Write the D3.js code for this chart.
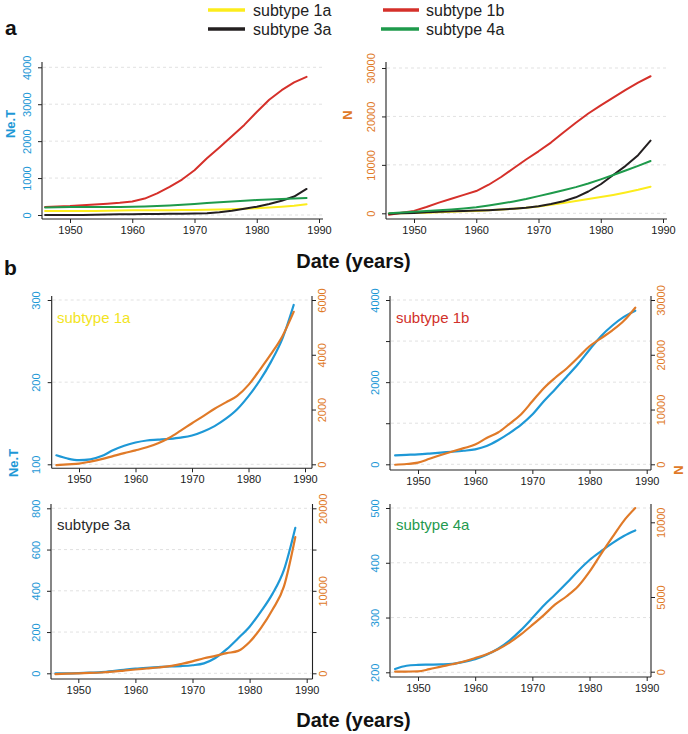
<!DOCTYPE html>
<html><head><meta charset="utf-8">
<script src="https://cdn.jsdelivr.net/npm/d3@7"></script>
<style>body{margin:0;background:#fff}svg{display:block}</style>
</head><body><svg id="c" width="688" height="734"></svg>
<script>
// ---------- DATA ----------
const years = [1946,1948,1950,1952,1954,1956,1958,1960,1962,1964,1966,1968,1970,1972,1974,1976,1978,1980,1982,1984,1986,1988];
const subtypes = ["subtype 1a","subtype 1b","subtype 3a","subtype 4a"];
const xTicks = [1950,1960,1970,1980,1990];

// Ne.T (effective population size) per subtype
const neT_1a = [111,107,105,106,110,117,122.5,126.5,129,130,131,132.5,135,140,146.5,155.5,167,183,202,225,253,294];
const neT_1b = [218,230,242,262,285,305,330,365,445,585,760,960,1210,1535,1830,2130,2440,2790,3120,3380,3590,3740];
const neT_3a = [0,0,1,3,6,11,17,23,27,30,33,35,39,48,74,117,170,226,300,385,500,705];
const neT_4a = [206,212,213.5,214,214.5,215.5,219,224,232,243,258,277,299,322,342,363,385,405,421,436,449,459];

// N (number of infections), panel b
const n_1a = [-30,0,25,100,190,300,410,510,620,770,970,1230,1500,1760,2030,2260,2500,2900,3450,4030,4680,5570];
const n_1b = [-80,50,300,1000,1700,2350,2950,3600,4800,5800,7400,9100,11500,13900,15800,17500,19500,21550,23000,24450,26200,28600];
const n_3a = [-100,-50,0,40,100,200,330,460,580,700,860,1130,1450,1820,2120,2440,2720,3800,5500,7700,10500,16500];
const n_4a = [0,10,20,170,340,500,680,920,1170,1500,1950,2500,3130,3790,4500,5050,5720,6700,7870,9000,10100,10950];

// N, panel a
const nTop_1a = [-50,0,50,120,200,300,400,500,620,770,950,1150,1400,1750,2150,2550,2950,3350,3800,4300,4850,5500];
const nTop_1b = [-300,100,500,1300,2200,3000,3800,4600,5900,7500,9300,11100,12800,14600,16700,18700,20600,22300,23900,25500,27000,28300];
const nTop_3a = [-100,0,80,200,300,400,480,560,650,780,950,1150,1450,1900,2500,3300,4500,6000,7900,9800,12000,15000];
const nTop_4a = [0,150,300,450,620,800,1000,1250,1600,2000,2450,2950,3550,4150,4750,5400,6150,7000,7900,8850,9800,10800];

// ---------- STYLE ----------
const FONT = '"Liberation Sans", Arial, Helvetica, sans-serif';
const BLUE = "#1e98d6", ORANGE = "#e07a28", AX = "#222";
const colors = {"subtype 1a":"#fcec1c","subtype 1b":"#d5302a","subtype 3a":"#231f20","subtype 4a":"#1e9a4b"};
const labelColors = {"subtype 1a":"#f2e41e","subtype 1b":"#d1312b","subtype 3a":"#2a2a2a","subtype 4a":"#1f9a4f"};
const neT = {"subtype 1a":neT_1a,"subtype 1b":neT_1b,"subtype 3a":neT_3a,"subtype 4a":neT_4a};
const nB = {"subtype 1a":n_1a,"subtype 1b":n_1b,"subtype 3a":n_3a,"subtype 4a":n_4a};
const nT = {"subtype 1a":nTop_1a,"subtype 1b":nTop_1b,"subtype 3a":nTop_3a,"subtype 4a":nTop_4a};

const svg = d3.select("#c");
const fmt = d3.format("d");

function axisBottom(g, x, y0, xl, xr) {
  const ax = g.append("g").attr("transform", `translate(0,${y0})`)
    .call(d3.axisBottom(x).tickValues(xTicks).tickSize(4).tickPadding(3).tickFormat(fmt));
  ax.select(".domain").remove();
  ax.selectAll(".tick line").attr("stroke", AX);
  ax.selectAll(".tick text").attr("font-size", 11).attr("font-family", FONT).attr("fill", "#1a1a1a");
  g.append("line").attr("x1", xl).attr("x2", xr).attr("y1", y0).attr("y2", y0).attr("stroke", AX).attr("stroke-width", 1.1);
}
function axisY(g, y, x0, yTop, yBot, ticks, labels, color, side) {
  const gen = side === "left" ? d3.axisLeft(y) : d3.axisRight(y);
  const ax = g.append("g").attr("transform", `translate(${x0},0)`)
    .call(gen.tickValues(ticks).tickSize(4).tickFormat(d => labels.includes(d) ? fmt(d) : ""));
  ax.select(".domain").remove();
  ax.selectAll(".tick line").attr("stroke", AX);
  ax.selectAll(".tick text").attr("x", null).attr("y", null).attr("dy", null)
    .attr("text-anchor", "middle")
    .attr("transform", side === "left" ? "translate(-11.5,0) rotate(-90)" : "translate(14,0) rotate(-90)")
    .attr("fill", color).attr("font-size", 11).attr("font-family", FONT);
  g.append("line").attr("x1", x0).attr("x2", x0).attr("y1", yTop).attr("y2", yBot).attr("stroke", AX).attr("stroke-width", 1.1);
}
function grid(g, y, ticks, xl, xr) {
  g.selectAll(null).data(ticks).join("line")
    .attr("x1", xl).attr("x2", xr).attr("y1", d => y(d)).attr("y2", d => y(d))
    .attr("stroke", "#d9d9d9").attr("stroke-width", 0.8).attr("stroke-dasharray", "3,3");
}
function series(g, x, y, vals, color, w, curve) {
  g.append("path").datum(d3.zip(years, vals))
    .attr("d", d3.line().x(d => x(d[0])).y(d => y(d[1])).curve(curve))
    .attr("fill", "none").attr("stroke", color).attr("stroke-width", w)
    .attr("stroke-linejoin", "round").attr("stroke-linecap", "round");
}

// ---------- PANEL a ----------
const topPanels = [
  {left:42, right:323, top:62, bottom:219, xr:[70,319], yd:[0,4000], yr:[215,67.3], ticks:[0,1000,2000,3000,4000], color:BLUE, data:neT},
  {left:386, right:667, top:62, bottom:219, xr:[414,663], yd:[0,30000], yr:[213.3,68], ticks:[0,10000,20000,30000], color:ORANGE, data:nT}
];
topPanels.forEach(p => {
  const g = svg.append("g");
  const x = d3.scaleLinear().domain([1950,1990]).range(p.xr);
  const y = d3.scaleLinear().domain(p.yd).range(p.yr);
  grid(g, y, p.ticks, p.left + 1, p.right);
  subtypes.forEach(s => series(g, x, y, p.data[s], colors[s], 2, d3.curveLinear));
  axisY(g, y, p.left, p.top, p.bottom, p.ticks, p.ticks, p.color, "left");
  axisBottom(g, x, p.bottom, p.left, p.right);
});

// ---------- PANEL b ----------
const botPanels = [
  {s:"subtype 1a", left:51.7, right:312, top:296, bottom:468.3, xr:[79,305],
   yLd:[100,300], yLr:[464.3,300], lT:[100,200,300], lL:[100,200,300],
   yRd:[0,6000], yRr:[464.3,300], rT:[0,2000,4000,6000], rL:[0,2000,4000,6000], lab:[57,323]},
  {s:"subtype 1b", left:390, right:651, top:296, bottom:470, xr:[418,646.7],
   yLd:[0,4000], yLr:[464.3,300], lT:[0,1000,2000,3000,4000], lL:[0,2000,4000],
   yRd:[0,30000], yRr:[464.3,300], rT:[0,10000,20000,30000], rL:[0,10000,20000,30000], lab:[396,323]},
  {s:"subtype 3a", left:51, right:312.5, top:504, bottom:679, xr:[78.3,306.7],
   yLd:[0,800], yLr:[673.3,508.3], lT:[0,200,400,600,800], lL:[0,200,400,600,800],
   yRd:[0,20000], yRr:[673.3,508.3], rT:[0,5000,10000,15000,20000], rL:[0,10000,20000], lab:[57,530]},
  {s:"subtype 4a", left:390, right:651, top:504, bottom:677, xr:[418,646.7],
   yLd:[200,500], yLr:[672.3,508], lT:[200,300,400,500], lL:[200,300,400,500],
   yRd:[0,10000], yRr:[671.7,522.3], rT:[0,5000,10000], rL:[0,5000,10000], lab:[396,530]}
];
botPanels.forEach(p => {
  const g = svg.append("g");
  const x = d3.scaleLinear().domain([1950,1990]).range(p.xr);
  const yL = d3.scaleLinear().domain(p.yLd).range(p.yLr);
  const yR = d3.scaleLinear().domain(p.yRd).range(p.yRr);
  grid(g, yL, p.lT, p.left + 1, p.right - 1);
  series(g, x, yL, neT[p.s], BLUE, 2.2, d3.curveMonotoneX);
  series(g, x, yR, nB[p.s], ORANGE, 2.2, d3.curveMonotoneX);
  axisY(g, yL, p.left, p.top, p.bottom, p.lT, p.lL, BLUE, "left");
  axisY(g, yR, p.right, p.top, p.bottom, p.rT, p.rL, ORANGE, "right");
  axisBottom(g, x, p.bottom, p.left, p.right);
  g.append("text").attr("x", p.lab[0]).attr("y", p.lab[1]).text(p.s)
    .attr("font-family", FONT).attr("font-size", 15).attr("fill", labelColors[p.s]);
});

// ---------- TEXT ----------
function txt(x, y, s, size, color, bold, rot, anchor) {
  const t = svg.append("text").text(s).attr("font-family", FONT).attr("font-size", size)
    .attr("fill", color).attr("font-weight", bold ? "bold" : "normal")
    .attr("text-anchor", anchor || "start");
  if (rot) t.attr("transform", `translate(${x},${y}) rotate(${rot})`).attr("dominant-baseline", "central");
  else t.attr("x", x).attr("y", y);
  return t;
}
txt(5, 35, "a", 21, "#111", true);
txt(4, 275, "b", 21, "#111", true);
txt(353.5, 268, "Date (years)", 20, "#111", true, 0, "middle");
txt(353.5, 727, "Date (years)", 20, "#111", true, 0, "middle");
txt(10, 124, "Ne.T", 13, BLUE, true, -90, "middle");
txt(347, 115, "N", 13, ORANGE, true, -90, "middle");
txt(13, 463, "Ne.T", 13, BLUE, true, -90, "middle");
txt(678, 470, "N", 13, ORANGE, true, -90, "middle");

// legend
const legendPos = {"subtype 1a":[208,10],"subtype 3a":[208,29],"subtype 1b":[383,10],"subtype 4a":[381,29]};
subtypes.forEach(s => {
  const [lx, ly] = legendPos[s];
  svg.append("line").attr("x1", lx).attr("x2", 245 + (lx > 300 ? 174 : 0)).attr("y1", ly).attr("y2", ly)
    .attr("stroke", colors[s]).attr("stroke-width", 3.5);
  txt(lx > 300 ? 426 : 253, ly + 5.5, s, 16, "#222", false);
});
</script>
</body></html>
